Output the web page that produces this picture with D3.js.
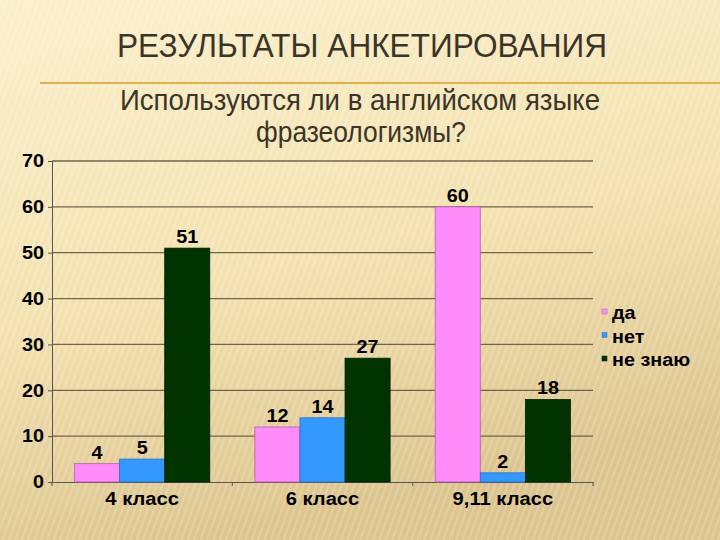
<!DOCTYPE html>
<html>
<head>
<meta charset="utf-8">
<script src="https://cdn.jsdelivr.net/npm/d3@7"></script>
<style>
  body { margin: 0; }
  svg { display: block; }
  .narrow { font-family: "Liberation Sans Narrow", "Arial Narrow", "Liberation Sans", sans-serif; }
  .bold { font-family: "Liberation Sans", Arial, sans-serif; font-weight: bold; }
</style>
</head>
<body>
<div id="chart"></div>
<script>
// data
var categories = ["4 класс", "6 класс", "9,11 класс"];
var seriesNames = ["да", "нет", "не знаю"];
var da = [4, 12, 60];
var net = [5, 14, 2];
var neZnayu = [51, 27, 18];
var yTicks = [0, 10, 20, 30, 40, 50, 60, 70];

var colors = ["#ff8cf8", "#3399ff", "#003300"];
var strokes = ["#b060b0", "#2a70c0", "#002000"];

var width = 720, height = 540;
var svg = d3.select("#chart").append("svg")
    .attr("width", width)
    .attr("height", height);

// the slide's chart text is a bit wider than the font, stretch it
function stretch(sel, k) {
    sel.each(function() {
        var w = this.getComputedTextLength();
        d3.select(this).attr("textLength", w * k).attr("lengthAdjust", "spacingAndGlyphs");
    });
}

// background: cream paper gradient with faint diagonal stripes
var defs = svg.append("defs");
var grad = defs.append("linearGradient").attr("id", "bg")
    .attr("x1", "0").attr("y1", "0").attr("x2", "0.3").attr("y2", "1");
grad.append("stop").attr("offset", "0").attr("stop-color", "#fbf0cc");
grad.append("stop").attr("offset", "0.55").attr("stop-color", "#f3e2b0");
grad.append("stop").attr("offset", "1").attr("stop-color", "#dcc48e");
var pat = defs.append("pattern").attr("id", "stripes")
    .attr("width", 6).attr("height", 6)
    .attr("patternUnits", "userSpaceOnUse")
    .attr("patternTransform", "rotate(20)");
pat.append("rect").attr("width", 2).attr("height", 6).attr("fill", "#ffffff").attr("opacity", 0.18);

svg.append("rect").attr("width", width).attr("height", height).attr("fill", "url(#bg)");
svg.append("rect").attr("width", width).attr("height", height).attr("fill", "url(#stripes)");

// titles (condensed look via textLength)
svg.append("text")
    .attr("class", "narrow")
    .attr("x", 362).attr("y", 57)
    .attr("text-anchor", "middle")
    .attr("font-size", 34)
    .attr("textLength", 490)
    .attr("lengthAdjust", "spacingAndGlyphs")
    .attr("fill", "#3b3428")
    .text("РЕЗУЛЬТАТЫ АНКЕТИРОВАНИЯ");

svg.append("line")
    .attr("x1", 40).attr("x2", 720)
    .attr("y1", 83).attr("y2", 83)
    .attr("stroke", "#e0b050").attr("stroke-width", 2);

svg.append("text")
    .attr("class", "narrow")
    .attr("x", 360).attr("y", 110)
    .attr("text-anchor", "middle")
    .attr("font-size", 29)
    .attr("textLength", 480)
    .attr("lengthAdjust", "spacingAndGlyphs")
    .attr("fill", "#3b3428")
    .text("Используются ли в английском языке");
svg.append("text")
    .attr("class", "narrow")
    .attr("x", 361).attr("y", 142)
    .attr("text-anchor", "middle")
    .attr("font-size", 29)
    .attr("textLength", 210)
    .attr("lengthAdjust", "spacingAndGlyphs")
    .attr("fill", "#3b3428")
    .text("фразеологизмы?");

// plot area
var plotLeft = 52, plotRight = 593, plotTop = 161, plotBottom = 482;

var x0 = d3.scaleBand()
    .domain(categories)
    .range([plotLeft, plotRight])
    .paddingInner(0.25)
    .paddingOuter(0.125);

var x1 = d3.scaleBand()
    .domain(seriesNames)
    .range([0, x0.bandwidth()]);

var y = d3.scaleLinear()
    .domain([0, 70])
    .range([plotBottom, plotTop]);

// gridlines
svg.append("g").selectAll("line")
    .data(yTicks.filter(function(d) { return d > 0; }))
    .enter().append("line")
    .attr("x1", plotLeft).attr("x2", plotRight)
    .attr("y1", function(d) { return y(d); })
    .attr("y2", function(d) { return y(d); })
    .attr("stroke", "#6f6448")
    .attr("stroke-width", 1.3);

// y axis
var yAxis = svg.append("g")
    .attr("transform", "translate(" + plotLeft + ",0)")
    .call(d3.axisLeft(y).tickValues(yTicks).tickSize(4).tickPadding(4));
yAxis.selectAll("text").attr("class", "bold").attr("font-size", 18).attr("fill", "#000")
    .call(stretch, 1.1);
yAxis.selectAll("line, path").attr("stroke", "#555");

// x axis
var xAxis = svg.append("g")
    .attr("transform", "translate(0," + plotBottom + ")")
    .call(d3.axisBottom(x0).tickSize(0).tickPadding(10));
xAxis.select(".domain").attr("stroke", "#555");
xAxis.selectAll("text").attr("class", "bold").attr("font-size", 18).attr("fill", "#000")
    .call(stretch, 1.12);
// tick marks between categories
xAxis.selectAll(".sep")
    .data(d3.range(categories.length + 1))
    .enter().append("line")
    .attr("class", "sep")
    .attr("x1", function(i) { return plotLeft + i * x0.step(); })
    .attr("x2", function(i) { return plotLeft + i * x0.step(); })
    .attr("y1", 0).attr("y2", 4)
    .attr("stroke", "#555");

// bars
var rows = categories.map(function(c, i) {
    return { cat: c, values: [da[i], net[i], neZnayu[i]] };
});

var group = svg.selectAll(".grp")
    .data(rows)
    .enter().append("g")
    .attr("class", "grp")
    .attr("transform", function(d) { return "translate(" + x0(d.cat) + ",0)"; });

group.selectAll("rect")
    .data(function(d) { return d.values.map(function(v, j) { return { name: seriesNames[j], value: v, j: j }; }); })
    .enter().append("rect")
    .attr("x", function(d) { return x1(d.name); })
    .attr("y", function(d) { return y(d.value); })
    .attr("width", x1.bandwidth())
    .attr("height", function(d) { return plotBottom - y(d.value); })
    .attr("fill", function(d) { return colors[d.j]; })
    .attr("stroke", function(d) { return strokes[d.j]; })
    .attr("stroke-width", 0.8);

group.selectAll(".lbl")
    .data(function(d) { return d.values.map(function(v, j) { return { name: seriesNames[j], value: v, j: j }; }); })
    .enter().append("text")
    .attr("class", "lbl bold")
    .attr("x", function(d) { return x1(d.name) + x1.bandwidth() / 2; })
    .attr("y", function(d) { return y(d.value) - 5; })
    .attr("text-anchor", "middle")
    .attr("font-size", 18)
    .attr("fill", "#000")
    .text(function(d) { return d.value; })
    .call(stretch, 1.1);

// legend
var legend = svg.append("g").attr("transform", "translate(602,319)");
var item = legend.selectAll("g")
    .data(seriesNames)
    .enter().append("g")
    .attr("transform", function(d, i) { return "translate(0," + (i * 23.5) + ")"; });
item.append("rect")
    .attr("x", 0).attr("y", -10)
    .attr("width", 5).attr("height", 5)
    .attr("fill", function(d, i) { return colors[i]; })
    .attr("stroke", function(d, i) { return strokes[i]; })
    .attr("stroke-width", 0.5);
item.append("text")
    .attr("class", "bold")
    .attr("x", 10).attr("y", 0)
    .attr("font-size", 18)
    .attr("fill", "#000")
    .text(function(d) { return d; })
    .call(stretch, 1.1);
</script>
</body>
</html>
